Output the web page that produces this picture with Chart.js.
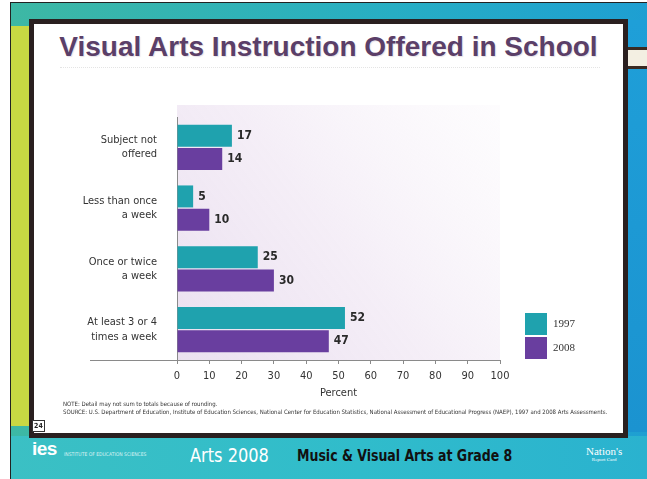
<!DOCTYPE html>
<html>
<head>
<meta charset="utf-8">
<script src="https://cdn.jsdelivr.net/npm/chart.js@4"></script>
<style>
  body { margin: 0; width: 647px; height: 479px; position: relative; overflow: hidden; background: #fff; font-family: 'Liberation Sans Narrow', 'DejaVu Sans Condensed', sans-serif; }
  #frame { position: absolute; left: 10px; top: 2px; width: 637px; height: 477px; background: linear-gradient(90deg, #3db8a4 0%, #27aec4 60%, #1e9fd2 100%); border-left: 1px solid #222; border-top: 1px solid #222; }
  #leftStrip { position: absolute; left: 11px; top: 26px; width: 18px; height: 400px; background: #c8d843; }
  #rightStrip { position: absolute; left: 628px; top: 20px; width: 19px; height: 412px; background: linear-gradient(180deg, #1f9fd8, #1b93d0); }
  #deco { position: absolute; left: 628px; top: 47px; width: 19px; height: 22px; background: #f3efe2; border-top: 3px solid #3a2a22; border-bottom: 3px solid #3a2a22; box-sizing: border-box; }
  #footer { position: absolute; left: 11px; top: 436px; width: 636px; height: 43px; background: linear-gradient(90deg, #3bc0c4 0%, #30bccb 55%, #2ab2cf 100%); }
  #slide { position: absolute; left: 29px; top: 19px; width: 589px; height: 409px; background: #fff; border: 5px solid #2a2020; }
  #title { position: absolute; left: 29px; top: 31px; width: 599px; text-align: center; font-family: 'Liberation Sans', Arial, sans-serif; font-weight: bold; font-size: 28px; color: #5b3f68; text-shadow: 1px 1px 1px rgba(90,60,100,0.15); }
  #rule { position: absolute; left: 60px; top: 67px; width: 540px; border-top: 1px dotted #e4e4e4; }
  #chartWrap { position: absolute; left: 34px; top: 96px; width: 586px; height: 306px; }
  .note { position: absolute; left: 63px; font-size: 6px; line-height: 7px; color: #333; width: 552px; }
  #page { position: absolute; left: 32px; top: 420px; width: 11px; height: 10px; border: 1px solid #333; font-size: 7px; line-height: 10px; text-align: center; font-weight: bold; color: #222; background: #fff; }
  #ies { position: absolute; left: 32px; top: 438px; color: #fff; font-family: 'Liberation Sans', Arial, sans-serif; font-weight: bold; font-size: 19px; letter-spacing: -0.5px; }
  #iesSub { position: absolute; left: 64px; top: 451px; color: #d9f3f3; font-size: 5px; }
  #arts { position: absolute; left: 190px; top: 443px; color: #fff; font-size: 20px; transform: scaleX(0.9); transform-origin: left; }
  #music { position: absolute; left: 297px; top: 446px; color: #111; font-weight: bold; font-size: 16px; transform: scaleX(0.87); transform-origin: left; white-space: nowrap; }
  #naep { position: absolute; left: 586px; top: 446px; color: #fff; font-family: 'Liberation Serif', serif; font-size: 11px; line-height: 11px; text-align: center; }
  #naep small { display: block; font-size: 5px; line-height: 6px; }
</style>
</head>
<body>
<div id="frame"></div>
<div id="leftStrip"></div>
<div id="rightStrip"></div>
<div id="deco"></div>
<div id="footer"></div>
<div id="slide"></div>
<div id="title">Visual Arts Instruction Offered in School</div>
<div id="rule"></div>
<div id="chartWrap"><canvas id="artsChart"></canvas></div>
<div class="note" style="top:400px">NOTE: Detail may not sum to totals because of rounding.</div>
<div class="note" style="top:408px">SOURCE: U.S. Department of Education, Institute of Education Sciences, National Center for Education Statistics, National Assessment of Educational Progress (NAEP), 1997 and 2008 Arts Assessments.</div>
<div id="page">24</div>
<div id="ies">ies</div>
<div id="iesSub">INSTITUTE OF EDUCATION SCIENCES</div>
<div id="arts">Arts 2008</div>
<div id="music">Music &amp; Visual Arts at Grade 8</div>
<div id="naep">Nation's<small>Report Card</small></div>

<script>
// Chart data
const categories = [
    ['Subject not', 'offered'],
    ['Less than once', 'a week'],
    ['Once or twice', 'a week'],
    ['At least 3 or 4', 'times a week']
];
const values1997 = [17, 5, 25, 52];
const values2008 = [14, 10, 30, 47];
const percentTicks = [0, 10, 20, 30, 40, 50, 60, 70, 80, 90, 100];

const labelFont = "'Liberation Sans Narrow', 'DejaVu Sans Condensed', sans-serif";

// Pale lavender wash behind the bars
const washPlugin = {
    id: 'wash',
    beforeDraw(chart) {
        const { ctx, chartArea } = chart;
        const g = ctx.createLinearGradient(chartArea.left, chartArea.bottom, chartArea.right, chartArea.top);
        g.addColorStop(0, 'rgba(232,220,238,0.9)');
        g.addColorStop(0.5, 'rgba(242,234,245,0.8)');
        g.addColorStop(1, 'rgba(250,247,251,0.4)');
        ctx.save();
        ctx.fillStyle = g;
        ctx.fillRect(chartArea.left, chartArea.top - 12, chartArea.right - chartArea.left, chartArea.bottom - chartArea.top + 12);
        ctx.restore();
    }
};

// Value labels at bar ends, long x axis line, legend at lower right
const extrasPlugin = {
    id: 'extras',
    afterDatasetsDraw(chart) {
        const { ctx } = chart;
        ctx.save();
        ctx.font = 'bold 12px ' + labelFont;
        ctx.fillStyle = '#2a2a2a';
        ctx.textBaseline = 'middle';
        chart.data.datasets.forEach((ds, i) => {
            chart.getDatasetMeta(i).data.forEach((bar, j) => {
                ctx.fillText(ds.data[j], bar.x + 5, bar.y);
            });
        });
        ctx.restore();
    },
    afterDraw(chart) {
        const { ctx, chartArea } = chart;
        ctx.save();
        ctx.strokeStyle = '#8a8a8a';
        ctx.lineWidth = 1;
        ctx.beginPath();
        ctx.moveTo(56, chartArea.bottom + 0.5);
        ctx.lineTo(chartArea.left, chartArea.bottom + 0.5);
        ctx.stroke();

        // legend
        const x0 = chartArea.right + 25;
        let y0 = chartArea.bottom - 47;
        ctx.font = '11px "Liberation Serif", serif';
        ctx.textBaseline = 'middle';
        chart.data.datasets.forEach(ds => {
            ctx.fillStyle = ds.backgroundColor;
            ctx.fillRect(x0, y0, 22, 22);
            ctx.fillStyle = '#333';
            ctx.fillText(ds.label, x0 + 28, y0 + 11);
            y0 += 24;
        });
        ctx.restore();
    }
};

const ctx = document.getElementById('artsChart').getContext('2d');
const artsChart = new Chart(ctx, {
    type: 'bar',
    data: {
        labels: categories,
        datasets: [{
            label: '1997',
            data: values1997,
            backgroundColor: '#1fa2ae',
            categoryPercentage: 0.77,
            barPercentage: 0.94
        }, {
            label: '2008',
            data: values2008,
            backgroundColor: '#693e9f',
            categoryPercentage: 0.77,
            barPercentage: 0.94
        }]
    },
    options: {
        indexAxis: 'y',
        responsive: true,
        maintainAspectRatio: false,
        animation: false,
        layout: {
            padding: { top: 21, right: 120, bottom: 0, left: 0 }
        },
        plugins: {
            legend: { display: false },
            tooltip: { enabled: false }
        },
        scales: {
            x: {
                min: 0,
                max: 100,
                afterBuildTicks: axis => {
                    axis.ticks = percentTicks.map(v => ({ value: v }));
                },
                afterFit: axis => { axis.height = 42; },
                grid: {
                    drawOnChartArea: false,
                    drawTicks: true,
                    tickLength: 4,
                    color: '#8a8a8a'
                },
                border: { color: '#8a8a8a' },
                ticks: {
                    color: '#333',
                    padding: 6,
                    font: { family: labelFont, size: 11 }
                },
                title: {
                    display: true,
                    text: 'Percent',
                    color: '#333',
                    padding: { top: 0, bottom: 2 },
                    font: { family: labelFont, size: 11 }
                }
            },
            y: {
                afterFit: axis => {
                    axis.width = 143;
                    axis.paddingTop = 0;
                    axis.paddingBottom = 0;
                },
                grid: { display: false },
                border: { color: '#8a8a8a' },
                ticks: {
                    color: '#333',
                    padding: 12,
                    font: { family: labelFont, size: 11, lineHeight: 1.3 }
                }
            }
        }
    },
    plugins: [washPlugin, extrasPlugin]
});
</script>
</body>
</html>
